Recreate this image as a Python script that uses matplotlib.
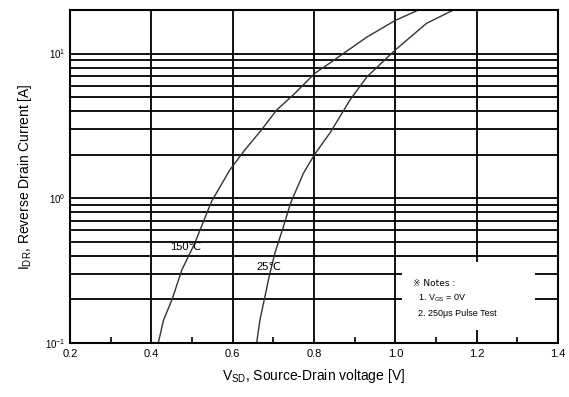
import matplotlib
matplotlib.use("Agg")
import matplotlib.pyplot as plt
import numpy as np

plt.rcParams['font.family'] = ['Liberation Sans', 'DejaVu Sans']
plt.rcParams['mathtext.fontset'] = 'custom'
plt.rcParams['mathtext.rm'] = 'Liberation Sans'

# Data
v_150 = [0.417, 0.43, 0.451, 0.475, 0.507, 0.528, 0.548, 0.593, 0.630, 0.67, 0.708, 0.749, 0.802, 0.839, 0.872, 0.93, 0.999, 1.057]
i_150 = [0.1, 0.144, 0.2, 0.32, 0.49, 0.69, 0.95, 1.57, 2.16, 2.95, 4.07, 5.18, 7.3, 8.6, 10.0, 13.0, 16.9, 20.0]

v_25 = [0.659, 0.667, 0.69, 0.704, 0.725, 0.742, 0.774, 0.802, 0.84, 0.889, 0.93, 1.0, 1.077, 1.143]
i_25 = [0.1, 0.144, 0.29, 0.42, 0.64, 0.92, 1.49, 2.02, 2.85, 4.8, 6.9, 10.6, 16.2, 20.0]

x_ticks = [0.2, 0.4, 0.6, 0.8, 1.0, 1.2, 1.4]
x_minor = [0.3, 0.5, 0.7, 0.9, 1.1, 1.3]
x_grid = [0.4, 0.6, 0.8, 1.0, 1.2]
y_ticks = [0.1, 1, 10]
y_labels = [r'$10^{-1}$', r'$10^{0}$', r'$10^{1}$']
y_grid = [0.2, 0.3, 0.4, 0.5, 0.6, 0.7, 0.8, 0.9, 1, 2, 3, 4, 5, 6, 7, 8, 9, 10]

fig = plt.figure(figsize=(5.69, 3.97), dpi=100)
ax = fig.add_axes([70/569, 54/397, 488/569, 333/397])
ax.set_yscale('log')
ax.set_xlim(0.2, 1.4)
ax.set_ylim(0.1, 20)

for yv in y_grid:
    ax.axhline(yv, color='black', lw=1.3, zorder=1)
for xv in x_grid:
    ax.axvline(xv, color='black', lw=1.3, zorder=1)

ax.plot(v_150, i_150, color='#333333', lw=1.0, zorder=3)
ax.plot(v_25, i_25, color='#333333', lw=1.0, zorder=3)

ax.text(0.485, 0.46, '150\u2103', fontsize=8, ha='center', va='center', zorder=4)
ax.text(0.688, 0.335, '25\u2103', fontsize=8, ha='center', va='center', zorder=4)

# Notes box (white, covers grid)
from matplotlib.patches import Rectangle
ax.add_patch(Rectangle((402/569, 67/397), 133/569, 68/397, transform=fig.transFigure,
                       facecolor='white', edgecolor='none', zorder=2))
fig.text(413/569, 1 - 283/397, '\u203b Notes :', fontsize=6.5, va='center', ha='left',
         family=['DejaVu Sans'])
fig.text(418/569, 1 - 298/397, r'1. V$_{\mathregular{GS}}$ = 0V', fontsize=6.5, va='center', ha='left')
fig.text(418/569, 1 - 313/397, '2. 250\u03bcs Pulse Test', fontsize=6.5, va='center', ha='left')

ax.set_xticks(x_ticks)
ax.set_xticklabels(['0.2', '0.4', '0.6', '0.8', '1.0', '1.2', '1.4'])
ax.set_xticks(x_minor, minor=True)
ax.set_yticks(y_ticks)
ax.set_yticklabels(y_labels)
ax.yaxis.set_minor_locator(matplotlib.ticker.NullLocator())
ax.tick_params(axis='x', which='major', direction='in', length=0, labelsize=8, pad=4)
ax.tick_params(axis='x', which='minor', direction='in', length=4, width=1.2)
ax.tick_params(axis='y', which='major', direction='in', length=0, labelsize=7, pad=3)

for s in ax.spines.values():
    s.set_linewidth(1.5)
    s.set_zorder(5)

ax.set_xlabel(r'V$_{\mathregular{SD}}$, Source-Drain voltage [V]', fontsize=10, labelpad=6)
ax.set_ylabel(r'I$_{\mathregular{DR}}$, Reverse Drain Current [A]', fontsize=10, labelpad=8)

fig.savefig('out.png', dpi=100)
